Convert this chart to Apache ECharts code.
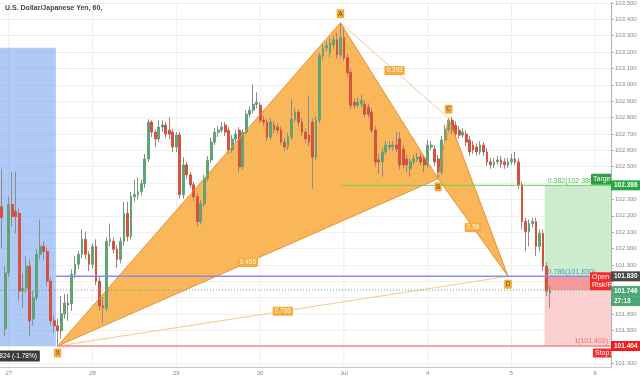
<!DOCTYPE html>
<html><head><meta charset="utf-8">
<script src="https://cdn.jsdelivr.net/npm/echarts@6/dist/echarts.min.js"></script>
<style>html,body{margin:0;padding:0;background:#fff}#c{width:640px;height:378px}</style>
</head><body><div id="c"></div>
<script>
const chartTitle = 'U.S. Dollar/Japanese Yen, 60,';
const xTickLabels = ['27','28','29','30','Jul','4','5','6'];
const firstDayIndex = 2, barsPerDay = 24, totalBars = 175;
const yTickValues = [101.3,101.4,101.5,101.6,101.7,101.8,101.9,102.0,102.1,102.2,102.3,102.4,102.5,102.6,102.7,102.8,102.9,103.0,103.1,103.2,103.3,103.4,103.5];
const yLabelValues = [101.3,101.5,101.6,101.9,102.0,102.1,102.2,102.3,102.5,102.6,102.7,102.8,102.9,103.0,103.1,103.2,103.3,103.4,103.5];

const open = [102.256,101.510,101.850,102.268,102.226,102.214,101.740,101.758,101.892,101.570,
101.698,101.965,102.013,101.983,101.801,101.558,101.528,101.498,101.601,101.667,
101.661,101.843,101.904,101.965,102.056,101.965,101.904,102.013,101.801,101.649,
101.637,102.044,102.044,101.995,101.934,102.044,102.214,102.074,102.317,102.329,
102.347,102.396,102.547,102.772,102.711,102.669,102.742,102.754,102.723,102.711,
102.620,102.693,102.329,102.511,102.450,102.390,102.317,102.165,102.274,102.426,
102.541,102.650,102.711,102.723,102.754,102.723,102.602,102.669,102.723,102.499,
102.711,102.820,102.845,102.881,102.875,102.784,102.772,102.681,102.754,102.742,
102.723,102.650,102.620,102.681,102.790,102.833,102.772,102.711,102.693,102.772,
102.559,102.784,103.178,103.227,103.197,103.245,103.275,103.184,103.288,103.166,
103.075,102.893,102.875,102.881,102.881,102.863,102.833,102.723,102.541,102.529,
102.590,102.620,102.620,102.632,102.669,102.608,102.547,102.487,102.529,102.547,
102.559,102.547,102.511,102.620,102.608,102.547,102.468,102.663,102.729,102.784,
102.754,102.723,102.693,102.699,102.663,102.632,102.620,102.590,102.632,102.590,
102.529,102.511,102.529,102.541,102.529,102.511,102.529,102.547,102.529,102.390,
102.165,102.104,102.153,102.165,102.013,102.092,101.892,101.728];
const close = [102.189,101.850,102.268,102.195,102.195,101.740,101.758,101.892,101.558,101.698,
101.965,102.013,101.983,101.801,101.558,101.528,101.498,101.601,101.667,101.655,
101.843,101.904,101.965,102.056,101.965,101.904,102.013,101.801,101.649,101.637,
102.044,102.056,101.995,101.934,102.044,102.214,102.074,102.317,102.329,102.347,
102.396,102.547,102.772,102.711,102.669,102.742,102.754,102.699,102.699,102.620,
102.693,102.329,102.511,102.450,102.390,102.317,102.165,102.274,102.426,102.541,
102.650,102.711,102.723,102.742,102.711,102.602,102.669,102.699,102.499,102.711,
102.820,102.845,102.881,102.893,102.784,102.772,102.681,102.772,102.729,102.723,
102.650,102.620,102.681,102.790,102.833,102.772,102.711,102.669,102.650,102.559,
102.784,103.178,103.227,103.239,103.257,103.275,103.184,103.288,103.166,103.075,
102.875,102.875,102.893,102.905,102.820,102.820,102.723,102.529,102.529,102.590,
102.632,102.632,102.632,102.608,102.511,102.511,102.511,102.529,102.547,102.559,
102.529,102.511,102.632,102.632,102.529,102.468,102.663,102.729,102.784,102.723,
102.699,102.693,102.711,102.650,102.590,102.602,102.590,102.632,102.590,102.529,
102.511,102.529,102.541,102.517,102.511,102.529,102.547,102.529,102.390,102.165,
102.104,102.153,102.165,102.013,102.092,101.892,101.740,101.746];
const low = [102.001,101.467,101.825,102.135,102.092,101.680,101.637,101.728,101.467,101.528,
101.680,101.934,101.934,101.771,101.528,101.485,101.404,101.449,101.570,101.558,
101.619,101.819,101.874,101.941,101.934,101.862,101.880,101.777,101.619,101.546,
101.619,102.013,101.971,101.880,101.910,102.019,102.044,102.056,102.286,102.299,
102.323,102.371,102.529,102.681,102.620,102.650,102.711,102.675,102.669,102.590,
102.590,102.305,102.305,102.426,102.371,102.292,102.135,102.147,102.256,102.408,
102.523,102.632,102.681,102.705,102.687,102.578,102.584,102.650,102.468,102.481,
102.693,102.802,102.826,102.857,102.766,102.748,102.657,102.663,102.705,102.699,
102.632,102.596,102.602,102.663,102.772,102.748,102.687,102.644,102.626,102.365,
102.541,102.766,103.154,103.203,103.166,103.221,103.160,103.166,103.148,103.051,
102.851,102.851,102.857,102.863,102.802,102.796,102.705,102.499,102.456,102.438,
102.572,102.602,102.596,102.590,102.481,102.487,102.468,102.438,102.511,102.529,
102.505,102.468,102.493,102.602,102.505,102.426,102.450,102.644,102.711,102.699,
102.675,102.669,102.675,102.626,102.566,102.578,102.566,102.572,102.566,102.505,
102.487,102.493,102.511,102.493,102.487,102.493,102.511,102.511,102.365,102.116,
101.983,102.013,102.129,101.953,101.983,101.862,101.710,101.637];
const high = [102.487,101.892,102.317,102.468,102.468,102.244,101.850,101.953,101.934,101.740,
101.995,102.177,102.044,102.007,101.825,101.589,101.570,101.710,101.722,101.722,
101.874,101.953,101.983,102.116,102.104,101.983,102.032,102.056,101.825,101.704,
102.068,102.153,102.068,102.019,102.068,102.286,102.286,102.347,102.420,102.432,
102.420,102.578,102.790,102.784,102.729,102.784,102.784,102.772,102.802,102.729,
102.711,102.711,102.559,102.529,102.468,102.408,102.335,102.299,102.450,102.566,
102.675,102.735,102.748,102.772,102.772,102.742,102.693,102.723,102.742,102.729,
102.845,102.869,103.002,102.954,102.893,102.808,102.790,102.796,102.778,102.766,
102.748,102.675,102.705,102.911,102.857,102.851,102.796,102.735,102.936,102.796,
102.808,103.197,103.251,103.269,103.288,103.300,103.318,103.379,103.348,103.191,
103.100,102.917,102.924,102.942,102.905,102.887,102.857,102.748,102.578,102.614,
102.657,102.657,102.657,102.711,102.711,102.632,102.572,102.553,102.572,102.584,
102.584,102.572,102.663,102.657,102.632,102.572,102.687,102.754,102.796,102.802,
102.778,102.748,102.735,102.723,102.687,102.657,102.644,102.657,102.650,102.614,
102.553,102.553,102.566,102.566,102.553,102.553,102.578,102.590,102.553,102.408,
102.189,102.177,102.189,102.189,102.116,102.116,101.916,101.771];

const patternNames = ['X','A','B','C','D'];
const patternIndex = [16, 97, 125, 128, 145];
const patternPrice = [101.404, 103.379, 102.426, 102.796, 101.830];
const ratioLabels = ['0.455','0.393','2.58','0.786'];
const ratioPairs = [[0,2],[1,3],[2,4],[0,4]];

const targetPrice = 102.386, entryPrice = 101.830, stopPrice = 101.404, lastPrice = 101.746;
const levelTexts = ['0.382(102.386)','0.786(101.830)','1(101.403)'];
const toolTexts = ['Target: 0.556 (0.54%)', 'Open P&L: -0.084 (-0.08%)\nRisk/Reward Ratio: 1.31', 'Stop: 0.426 (0.42%)'];
const rangeTop = 103.227, rangeBottom = 101.404, rangeEndIndex = 16, rangeText = '-1.824 (-1.78%)';
const rrStartIndex = 156, targetLineStart = 98;
const countdown = '27:13';

const UP = '#5fa377', DOWN = '#d4523e', WICK = '#8c8c8c';
const FONT = "'Liberation Sans', Arial, sans-serif";

const dayNames = ['26'].concat(xTickLabels);
const categories = [];
for (let i = 0; i < totalBars; i++) {
  const k = i - firstDayIndex;
  const d = Math.floor(k / barsPerDay);
  const hh = ((k % barsPerDay) + barsPerDay) % barsPerDay;
  categories.push(dayNames[d + 1] + ' ' + String(hh).padStart(2, '0') + ':00');
}
const wickData = open.map((o, i) => [o, close[i], low[i], high[i]]);
const bodyData = open.map((o, i) => [o, close[i], Math.min(o, close[i]), Math.max(o, close[i])]);

function seg(a, b, color, w, dash) {
  return {type: 'line', shape: {x1: a[0], y1: a[1], x2: b[0], y2: b[1]}, style: {stroke: color, lineWidth: w, lineDash: dash || null}};
}
function tag(x, y, text, bg, color, align, vAlign, pad, size) {
  return {type: 'text', x: x, y: y, style: {text: text, fill: color, fontSize: size || 6.5, fontFamily: FONT,
    align: align || 'center', verticalAlign: vAlign || 'middle', backgroundColor: bg, padding: pad || [1, 2], borderRadius: 1}};
}

function renderUnder(params, api) {
  const cs = params.coordSys;
  const bw = api.size([1, 0])[0];
  const px = i => api.coord([i, 102])[0];
  const py = p => api.coord([0, p])[1];
  const right = cs.x + cs.width;
  const ch = [];
  categories.forEach((c, i) => {
    if (c.endsWith(' 00:00')) ch.push(seg([px(i), cs.y], [px(i), cs.y + cs.height], '#efefef', 1));
  });
  ch.push({type: 'rect', shape: {x: cs.x, y: py(rangeTop), width: px(rangeEndIndex) - bw / 2 - cs.x, height: py(rangeBottom) - py(rangeTop)},
    style: {fill: 'rgba(110,158,238,0.55)'}});
  const P = patternIndex.map((ix, k) => api.coord([ix, patternPrice[k]]));
  ch.push({type: 'polygon', shape: {points: [P[0], P[1], P[2]]}, style: {fill: '#f9b75a'}});
  ch.push({type: 'polygon', shape: {points: [P[2], P[3], P[4]]}, style: {fill: '#f9b75a'}});
  const x0 = px(rrStartIndex) - bw / 2;
  ch.push({type: 'rect', shape: {x: x0, y: py(targetPrice), width: right - x0, height: py(entryPrice) - py(targetPrice)}, style: {fill: '#cdeccd'}});
  ch.push({type: 'rect', shape: {x: x0, y: py(entryPrice), width: right - x0, height: py(stopPrice) - py(entryPrice)}, style: {fill: '#fbd0d0'}});
  ch.push({type: 'rect', shape: {x: x0, y: py(entryPrice), width: right - x0, height: py(lastPrice) - py(entryPrice)}, style: {fill: '#f59a9a'}});
  return {type: 'group', children: ch};
}

function renderOver(params, api) {
  const cs = params.coordSys;
  const bw = api.size([1, 0])[0];
  const px = i => api.coord([i, 102])[0];
  const py = p => api.coord([0, p])[1];
  const right = cs.x + cs.width;
  const P = patternIndex.map((ix, k) => api.coord([ix, patternPrice[k]]));
  const ch = [];
  ch.push(seg(P[1], P[3], '#f5c98e', 1));
  ch.push(seg(P[0], P[4], '#f5c98e', 1));
  ch.push({type: 'polyline', shape: {points: [P[0], P[1], P[2], P[0]]}, style: {stroke: '#e4923a', lineWidth: 1, fill: null}});
  ch.push({type: 'polyline', shape: {points: [P[2], P[3], P[4], P[2]]}, style: {stroke: '#e4923a', lineWidth: 1, fill: null}});
  ch.push(seg([px(targetLineStart) - bw / 2, py(targetPrice)], [right, py(targetPrice)], '#62d062', 1));
  ch.push(seg([px(patternIndex[0]) - bw / 2, py(entryPrice)], [right, py(entryPrice)], '#8a8af2', 1.5));
  ch.push(seg([cs.x, py(lastPrice)], [right, py(lastPrice)], '#6e9c86', 1, [1, 2]));
  ch.push(seg([px(patternIndex[0]), py(stopPrice)], [right, py(stopPrice)], '#f28a8a', 1.5));
  ratioPairs.forEach((pr, k) => {
    const a = P[pr[0]], b = P[pr[1]];
    ch.push(tag((a[0] + b[0]) / 2, (a[1] + b[1]) / 2, ratioLabels[k], '#f4ac3c', '#fff6e6'));
  });
  const dy = [7, -9, 8, -9, 8];
  P.forEach((p, k) => ch.push(tag(p[0], p[1] + dy[k], patternNames[k], '#f4ac3c', '#6b4a10', 'center', 'middle', [1, 1.5])));
  const x0 = px(rrStartIndex) - bw / 2;
  ch.push({type: 'text', x: x0 + 3, y: py(targetPrice) - 1, style: {text: levelTexts[0], fill: '#4fc24f', fontSize: 7, fontFamily: FONT, align: 'left', verticalAlign: 'bottom'}});
  ch.push({type: 'text', x: x0 + 3, y: py(entryPrice) - 1, style: {text: levelTexts[1], fill: '#4d9db5', fontSize: 7, fontFamily: FONT, align: 'left', verticalAlign: 'bottom'}});
  ch.push({type: 'text', x: right - 3, y: py(stopPrice) - 1, style: {text: levelTexts[2], fill: '#ee6a6a', fontSize: 7, fontFamily: FONT, align: 'right', verticalAlign: 'bottom'}});
  ch.push(tag(right - 20, py(targetPrice) - 6, toolTexts[0], '#2f9e44', '#fff', 'left', 'middle', [2, 2], 7));
  ch.push({type: 'text', x: right - 21, y: py(entryPrice) + 5, style: {text: toolTexts[1], fill: '#fff', fontSize: 7, lineHeight: 8, fontFamily: FONT,
    align: 'left', verticalAlign: 'middle', backgroundColor: '#f22c2c', padding: [1, 2], borderRadius: 1}});
  ch.push(tag(right - 18, py(stopPrice) + 7, toolTexts[2], '#f22c2c', '#fff', 'left', 'middle', [1, 2], 7));
  ch.push(tag(px(rangeEndIndex) - bw / 2 - 16, py(rangeBottom) + 10, rangeText, '#3b3b3b', '#fff', 'right', 'middle', [2, 3]));
  return {type: 'group', children: ch};
}

function renderTags(params, api) {
  const cs = params.coordSys;
  const py = p => api.coord([0, p])[1];
  const x = cs.x + cs.width;
  const box = (y, text, bg) => ([
    {type: 'rect', shape: {x: x, y: y - 5, width: 29, height: 10}, style: {fill: bg}},
    {type: 'text', x: x + 3, y: y, style: {text: text, fill: '#fff', fontSize: 6.5, fontWeight: 'bold', fontFamily: FONT, align: 'left', verticalAlign: 'middle'}}
  ]);
  const ch = [].concat(
    box(py(targetPrice), targetPrice.toFixed(3), '#28a745'),
    box(py(entryPrice), entryPrice.toFixed(3), '#4a4a4a'),
    box(py(lastPrice) + 1, lastPrice.toFixed(3), '#4fa874'),
    box(py(lastPrice) + 11, countdown, '#4fa874'),
    box(py(stopPrice), stopPrice.toFixed(3), '#f01e1e')
  );
  return {type: 'group', children: ch};
}

const chart = echarts.init(document.getElementById('c'), null, {renderer: 'canvas'});
chart.setOption({
  animation: false,
  backgroundColor: '#ffffff',
  title: {text: chartTitle, left: 5, top: 5, padding: 0, textStyle: {fontSize: 7, fontWeight: 'bold', color: '#444', fontFamily: FONT}},
  grid: {left: 0, right: 29, top: 0, bottom: 11, containLabel: false},
  xAxis: {
    type: 'category', data: categories, boundaryGap: true,
    axisLine: {lineStyle: {color: '#c8c8c8'}},
    axisTick: {show: false},
    axisLabel: {interval: (i, v) => v.endsWith(' 00:00'), formatter: v => v.split(' ')[0], fontSize: 6, color: '#888', margin: 3, fontFamily: FONT},
    splitLine: {show: false}
  },
  yAxis: {
    type: 'value', position: 'right', min: 101.276, max: 103.503, scale: true,
    axisLine: {show: true, lineStyle: {color: '#b0b0b0'}},
    axisTick: {show: true, length: 3, lineStyle: {color: '#b0b0b0'}, customValues: yTickValues},
    axisLabel: {customValues: yLabelValues, formatter: v => v.toFixed(3), fontSize: 6, color: '#888', margin: 4, fontFamily: FONT},
    splitLine: {show: true, lineStyle: {color: '#efefef'}}
  },
  series: [
    {type: 'custom', name: 'under', renderItem: renderUnder, data: [[0, 102]], z: 1, silent: true, clip: true},
    {type: 'candlestick', name: 'wick', data: wickData, barWidth: 1, z: 3,
      itemStyle: {color: WICK, color0: WICK, borderColor: WICK, borderColor0: WICK, borderWidth: 1}},
    {type: 'candlestick', name: 'body', data: bodyData, barWidth: 2.3, z: 4,
      itemStyle: {color: UP, color0: DOWN, borderColor: UP, borderColor0: DOWN, borderWidth: 1}},
    {type: 'custom', name: 'over', renderItem: renderOver, data: [[0, 102]], z: 5, silent: true, clip: true},
    {type: 'custom', name: 'tags', renderItem: renderTags, data: [[0, 102]], z: 6, silent: true, clip: false}
  ]
});
</script></body></html>
